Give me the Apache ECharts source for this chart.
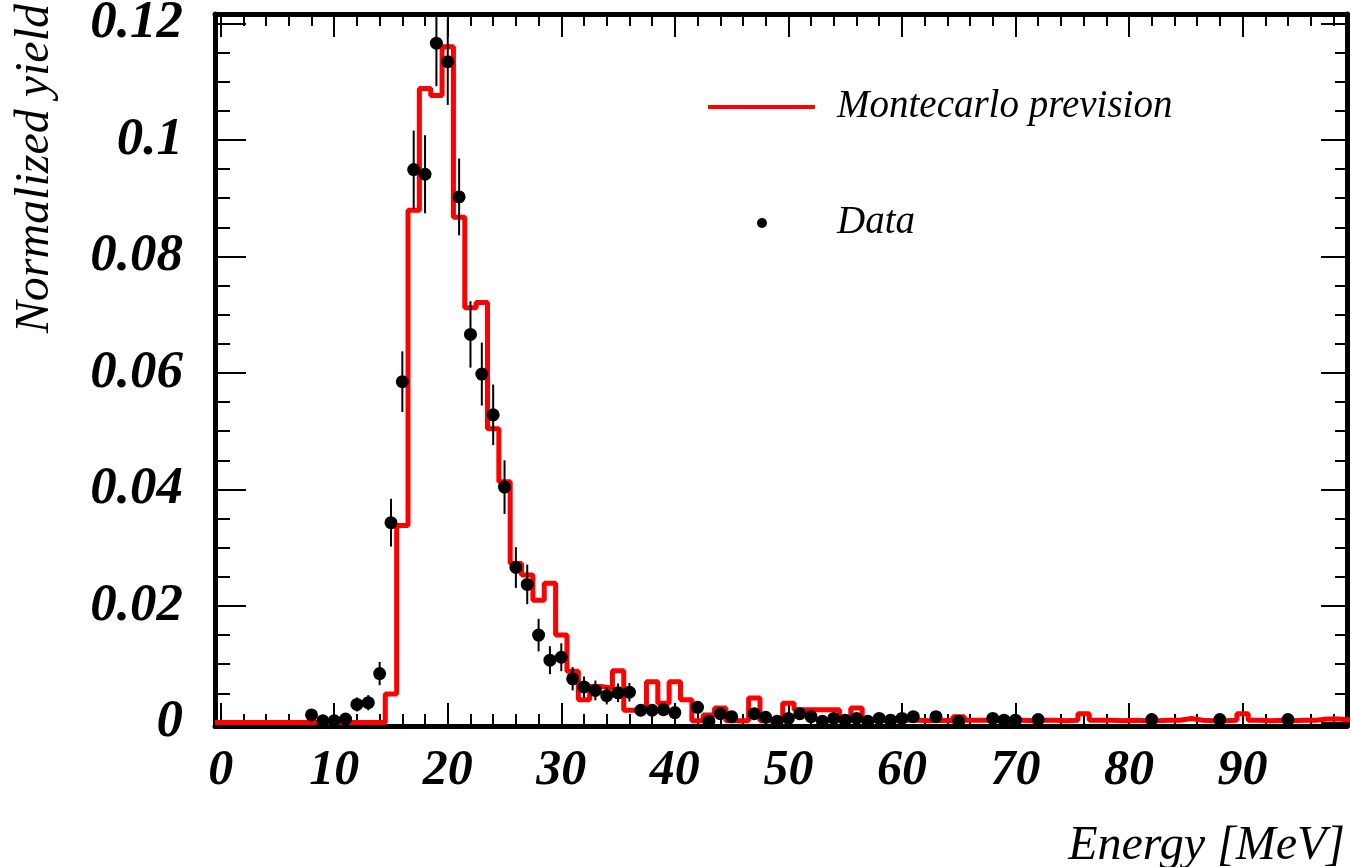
<!DOCTYPE html>
<html>
<head>
<meta charset="utf-8">
<script src="https://cdn.jsdelivr.net/npm/echarts@6/dist/echarts.min.js"></script>
<style>
html,body{margin:0;padding:0;background:#ffffff;}
#chart{width:1351px;height:867px;}
</style>
</head>
<body>
<div id="chart"></div>
<script>
// Monte Carlo histogram: one value per 1 MeV bin, bin i centred on i MeV (bins 0..99)
const mcYield = [
  0, 0, 0, 0, 0, 0, 0, 0, 0, 0,
  0, 0, 0, 0, 0, 0.0049, 0.0338, 0.0879, 0.1088, 0.1076,
  0.1160, 0.0867, 0.0712, 0.0721, 0.0504, 0.0413, 0.0273, 0.0253, 0.0210, 0.0239,
  0.0150, 0.0088, 0.0039, 0.0062, 0.0059, 0.0089, 0.0021, 0.0021, 0.0070, 0.0033,
  0.0070, 0.0039, 0.0003, 0.0013, 0.0025, 0.0003, 0.0003, 0.0042, 0.0003, 0.0003,
  0.0033, 0.0022, 0.0022, 0.0022, 0.0022, 0.0003, 0.0025, 0.0004, 0.0004, 0.0003,
  0.0004, 0.0004, 0.0003, 0.0004, 0.0003, 0.0010, 0.0004, 0.0004, 0.0003, 0.0004,
  0.0004, 0.0003, 0.0004, 0.0004, 0.0003, 0.0004, 0.0015, 0.0004, 0.0004, 0.0003,
  0.0004, 0.0003, 0.0003, 0.0004, 0.0004, 0.0007, 0.0004, 0.0003, 0.0003, 0.0004,
  0.0015, 0.0004, 0.0003, 0.0004, 0.0003, 0.0004, 0.0004, 0.0006, 0.0006, 0.0004
];

// Measured data points
const dataEnergy = [8, 9, 10, 11, 12, 13, 14, 15, 16, 17, 18, 19, 20, 21, 22, 23, 24, 25, 26, 27,
  28, 29, 30, 31, 32, 33, 34, 35, 36, 37, 38, 39, 40, 42, 43, 44, 45, 47, 48, 49,
  50, 51, 52, 53, 54, 55, 56, 57, 58, 59, 60, 61, 63, 65, 68, 69, 70, 72, 82, 88, 94];
const dataYield = [0.0013, 0.0003, 0.0003, 0.0006, 0.0031, 0.0034, 0.0084, 0.0343, 0.0585, 0.0949,
  0.0941, 0.1166, 0.1134, 0.0902, 0.0666, 0.0598, 0.0528, 0.0404, 0.0266, 0.0237,
  0.0150, 0.0107, 0.0112, 0.0075, 0.0061, 0.0055, 0.0046, 0.0051, 0.0052, 0.0021,
  0.0021, 0.0022, 0.0017, 0.0026, 0.0002, 0.0015, 0.0010, 0.0015, 0.0009, 0.0002,
  0.0007, 0.0015, 0.0010, 0.0002, 0.0007, 0.0004, 0.0007, 0.0002, 0.0007, 0.0004,
  0.0007, 0.0010, 0.0010, 0.0002, 0.0007, 0.0004, 0.0004, 0.0005, 0.0005, 0.0005, 0.0005];
const dataError = [0.0008, 0.0004, 0.0004, 0.0005, 0.0012, 0.0013, 0.0020, 0.0041, 0.0052, 0.0067,
  0.0067, 0.0074, 0.0074, 0.0066, 0.0057, 0.0054, 0.0052, 0.0046, 0.0035, 0.0034,
  0.0028, 0.0024, 0.0024, 0.0020, 0.0018, 0.0017, 0.0015, 0.0016, 0.0016, 0.0010,
  0.0010, 0.0010, 0.0009, 0.0011, 0.0003, 0.0008, 0.0007, 0.0008, 0.0006, 0.0003,
  0.0006, 0.0008, 0.0007, 0.0003, 0.0006, 0.0004, 0.0006, 0.0003, 0.0006, 0.0004,
  0.0006, 0.0007, 0.0007, 0.0003, 0.0006, 0.0004, 0.0004, 0.0005, 0.0005, 0.0005, 0.0005];

const xTickLabels = ['0', '10', '20', '30', '40', '50', '60', '70', '80', '90'];
const yTickLabels = ['0', '0.02', '0.04', '0.06', '0.08', '0.1', '0.12'];

const seriesNames = ['Montecarlo prevision', 'Data'];
const xTitle = 'Energy [MeV]';
const yTitle = 'Normalized yield';

const FONT = '"Liberation Serif", "Times New Roman", serif';
const X_MIN = -0.5, X_MAX = 99.2, Y_MIN = -0.0006, Y_MAX = 0.1216;

// step outline built from bin edges
const mcSteps = mcYield.map((v, i) => [i - 0.5, v]);
mcSteps.push([mcYield.length - 0.5, mcYield[mcYield.length - 1]]);

const points = dataEnergy.map((e, i) => [e, dataYield[i], dataError[i]]);

function near(v, step) { const k = v / step; return Math.abs(k - Math.round(k)) < 1e-6; }

function xAxis(pos, interval, len, withLabels, withLine) {
  return {
    type: 'value', position: pos, min: X_MIN, max: X_MAX,
    splitNumber: Math.round(100 / interval), minInterval: interval, maxInterval: interval,
    axisLine: { show: withLine, onZero: false, lineStyle: { color: '#000', width: 5 } },
    axisTick: { show: true, inside: true, length: len, lineStyle: { color: '#000', width: 2 } },
    axisLabel: {
      show: withLabels, margin: 20, color: '#000', fontFamily: FONT, fontSize: 50,
      fontStyle: 'italic', fontWeight: 'bold',
      formatter: function (v) {
        if (!near(v, 10) || v < 0) return '';
        const idx = Math.round(v / 10);
        return xTickLabels[idx] !== undefined ? xTickLabels[idx] : '';
      }
    },
    splitLine: { show: false }, minorTick: { show: false }
  };
}
function yAxis(pos, interval, len, withLabels, withLine) {
  return {
    type: 'value', position: pos, min: Y_MIN, max: Y_MAX,
    splitNumber: Math.round(0.12 / interval), minInterval: interval, maxInterval: interval,
    axisLine: { show: withLine, onZero: false, lineStyle: { color: '#000', width: 5 } },
    axisTick: { show: true, inside: true, length: len, lineStyle: { color: '#000', width: 2 } },
    axisLabel: {
      show: withLabels, margin: 32, color: '#000', fontFamily: FONT, fontSize: 53,
      fontStyle: 'italic', fontWeight: 'bold',
      formatter: function (v) {
        if (!near(v, 0.02) || v < -1e-9) return '';
        const idx = Math.round(v / 0.02);
        return yTickLabels[idx] !== undefined ? yTickLabels[idx] : '';
      }
    },
    splitLine: { show: false }, minorTick: { show: false }
  };
}

const chart = echarts.init(document.getElementById('chart'), null, { renderer: 'canvas' });

const option = {
  backgroundColor: '#ffffff',
  animation: false,
  grid: { left: 215, right: 4, top: 14, bottom: 141, containLabel: false, outerBoundsMode: 'none' },
  xAxis: [
    xAxis('bottom', 10, 23, true, true),
    xAxis('bottom', 2, 12, false, false),
    xAxis('top', 10, 23, false, true),
    xAxis('top', 2, 12, false, false)
  ],
  yAxis: [
    yAxis('left', 0.02, 31, true, true),
    yAxis('left', 0.005, 15, false, false),
    yAxis('right', 0.02, 26, false, true),
    yAxis('right', 0.005, 12, false, false)
  ],
  legend: [
    {
      data: [{ name: seriesNames[0], icon: 'rect' }],
      left: 708, top: 87, padding: 0, itemWidth: 107, itemHeight: 4, selectedMode: false,
      textStyle: { fontFamily: FONT, fontStyle: 'italic', fontSize: 39, color: '#000', lineHeight: 40, padding: [0, 0, 0, 17] }
    },
    {
      data: [{ name: seriesNames[1], icon: 'circle' }],
      left: 757, top: 203, padding: 0, itemWidth: 10, itemHeight: 10, selectedMode: false,
      textStyle: { fontFamily: FONT, fontStyle: 'italic', fontSize: 39, color: '#000', lineHeight: 40, padding: [0, 0, 0, 65] }
    }
  ],
  graphic: [
    {
      type: 'text', x: 35, y: 4, rotation: Math.PI / 2,
      style: { text: yTitle, fontFamily: FONT, fontStyle: 'italic', fontSize: 48, fill: '#000',
        textAlign: 'right', textVerticalAlign: 'middle' }
    },
    {
      type: 'text', x: 1345, y: 846,
      style: { text: xTitle, fontFamily: FONT, fontStyle: 'italic', fontSize: 48, fill: '#000',
        textAlign: 'right', textVerticalAlign: 'middle' }
    }
  ],
  series: [
    {
      name: seriesNames[0], type: 'line', step: 'end', data: mcSteps,
      xAxisIndex: 0, yAxisIndex: 0, showSymbol: false, symbol: 'none', clip: true,
      color: '#ff0000',
      lineStyle: { color: '#ff0000', width: 5 },
      itemStyle: { color: '#ff0000' },
      z: 2
    },
    {
      name: 'errors', type: 'custom', xAxisIndex: 0, yAxisIndex: 0, clip: true, z: 3,
      data: points,
      encode: { x: 0, y: 1 },
      renderItem: function (params, api) {
        const x = api.value(0), y = api.value(1), e = api.value(2);
        const p1 = api.coord([x, y - e]);
        const p2 = api.coord([x, y + e]);
        return {
          type: 'line',
          shape: { x1: p1[0], y1: p1[1], x2: p2[0], y2: p2[1] },
          style: { stroke: '#000', lineWidth: 2 }
        };
      }
    },
    {
      name: seriesNames[1], type: 'scatter', xAxisIndex: 0, yAxisIndex: 0,
      data: points.map(p => [p[0], p[1]]),
      symbol: 'circle', symbolSize: 13, color: '#000',
      itemStyle: { color: '#000', opacity: 1 }, clip: true, z: 4
    }
  ]
};
chart.setOption(option);
</script>
</body>
</html>
